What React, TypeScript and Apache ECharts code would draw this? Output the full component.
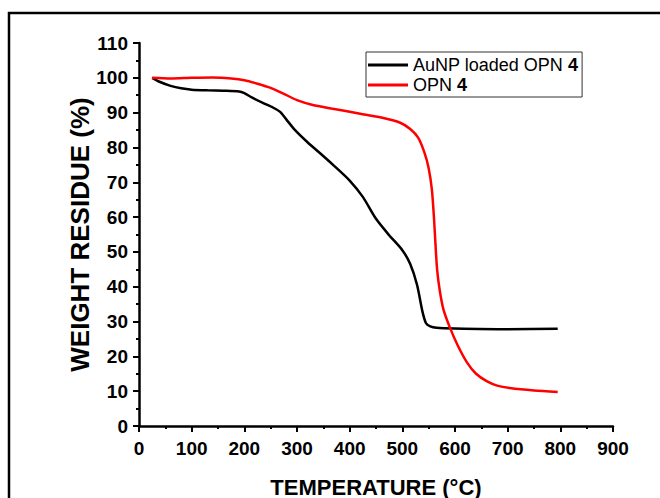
import React, { useEffect, useRef } from "react";
import * as echarts from "echarts";

const xTicks = [0, 100, 200, 300, 400, 500, 600, 700, 800, 900];
const yTicks = [0, 10, 20, 30, 40, 50, 60, 70, 80, 90, 100, 110];

const auTemps = [25, 40, 60, 80, 100, 130, 160, 190, 200, 215, 235, 255, 268, 280, 295, 320, 345, 370, 400, 425, 450, 475, 500, 515, 528, 538, 545, 553, 565, 600, 700, 795];
const auValues = [100, 98.8, 97.7, 97.0, 96.6, 96.4, 96.3, 96.1, 95.6, 94.3, 92.8, 91.4, 90.2, 88, 85.2, 81.5, 78.2, 74.8, 70.5, 65.8, 59.5, 54.8, 50.5, 46.5, 40.5, 33, 29.5, 28.6, 28.2, 28.0, 27.8, 27.9];

const opnTemps = [25, 60, 100, 140, 175, 200, 225, 250, 275, 300, 330, 365, 420, 460, 496, 515, 530, 542, 550, 556, 560, 563, 566, 571, 578, 590, 605, 623, 640, 661, 680, 704, 750, 795];
const opnValues = [100, 99.8, 100, 100.1, 99.8, 99.3, 98.3, 97.1, 95.4, 93.6, 92.2, 91.2, 89.7, 88.6, 87.1, 85.3, 82.8, 78.5, 74, 68, 60, 52, 45, 39, 33.5, 28.4, 23.2, 18.2, 15, 12.8, 11.6, 10.9, 10.2, 9.8];

const seriesNames = ["AuNP loaded OPN 4", "OPN 4"];

const FONT = "'Liberation Sans', Arial, sans-serif";

export default function App() {
  const ref = useRef<HTMLDivElement>(null);
  useEffect(() => {
    if (!ref.current) return;
    const chart = echarts.init(ref.current, undefined, { renderer: "svg" });
    const zip = (xs: number[], ys: number[]) => xs.map((x, i) => [x, ys[i]]);
    chart.setOption({
      animation: false,
      backgroundColor: "#fff",
      textStyle: { fontFamily: FONT },
      grid: { left: 139, right: 47, top: 43, bottom: 72, outerBoundsMode: "none", containLabel: false },
      graphic: [
        {
          type: "rect",
          shape: { x: 9, y: 13, width: 720, height: 620 },
          style: { fill: "none", stroke: "#000", lineWidth: 2.5 },
          z: 100,
        },
      ],
      legend: {
        orient: "vertical",
        left: 366,
        top: 52,
        padding: [4, 4, 3, 2],
        itemGap: 2,
        itemWidth: 40,
        itemHeight: 3,
        icon: "rect",
        borderColor: "#333",
        borderWidth: 1,
        data: seriesNames,
        formatter: (name: string) =>
          name === seriesNames[0] ? "AuNP loaded OPN {b|4}" : "OPN {b|4}",
        textStyle: {
          fontFamily: FONT,
          fontSize: 18,
          lineHeight: 18,
          color: "#000",
          rich: { b: { fontFamily: FONT, fontSize: 18, fontWeight: "bold", color: "#000" } },
        },
      },
      xAxis: {
        type: "value",
        min: 0,
        max: 900,
        interval: 100,
        name: "TEMPERATURE (°C)",
        nameLocation: "middle",
        nameGap: 50,
        nameMoveOverlap: false,
        nameTextStyle: { fontFamily: FONT, fontSize: 22, fontWeight: "bold", color: "#000" },
        axisLine: { show: true, onZero: false, lineStyle: { color: "#000", width: 2.5 } },
        axisTick: { show: true, inside: false, length: 6, lineStyle: { color: "#000", width: 2 } },
        minorTick: { show: true, splitNumber: 2, length: 3, lineStyle: { color: "#000", width: 2 } },
        splitLine: { show: false },
        axisLabel: {
          margin: 13,
          fontFamily: FONT,
          fontSize: 19,
          fontWeight: "bold",
          color: "#000",
          formatter: (v: number) => (xTicks.includes(v) ? String(v) : ""),
        },
      },
      yAxis: {
        type: "value",
        min: 0,
        max: 110,
        interval: 10,
        name: "WEIGHT RESIDUE (%)",
        nameLocation: "middle",
        nameGap: 46,
        nameMoveOverlap: false,
        nameTextStyle: { fontFamily: FONT, fontSize: 26, fontWeight: "bold", color: "#000" },
        axisLine: { show: true, onZero: false, lineStyle: { color: "#000", width: 2.5 } },
        axisTick: { show: true, inside: false, length: 6, lineStyle: { color: "#000", width: 2 } },
        minorTick: { show: true, splitNumber: 2, length: 3, lineStyle: { color: "#000", width: 2 } },
        splitLine: { show: false },
        axisLabel: {
          margin: 11,
          fontFamily: FONT,
          fontSize: 19,
          fontWeight: "bold",
          color: "#000",
          formatter: (v: number) => (yTicks.includes(v) ? String(v) : ""),
        },
      },
      series: [
        {
          name: seriesNames[0],
          type: "line",
          data: zip(auTemps, auValues),
          showSymbol: false,
          symbol: "none",
          smooth: 0.25,
          lineStyle: { color: "#000", width: 2.5 },
          itemStyle: { color: "#000" },
        },
        {
          name: seriesNames[1],
          type: "line",
          data: zip(opnTemps, opnValues),
          showSymbol: false,
          symbol: "none",
          smooth: 0.25,
          lineStyle: { color: "#ff0000", width: 2.5 },
          itemStyle: { color: "#ff0000" },
        },
      ],
    });
    return () => chart.dispose();
  }, []);
  return (
    <div
      ref={ref}
      style={{ position: "fixed", left: 0, top: 0, width: 660, height: 498, background: "#fff" }}
    />
  );
}
